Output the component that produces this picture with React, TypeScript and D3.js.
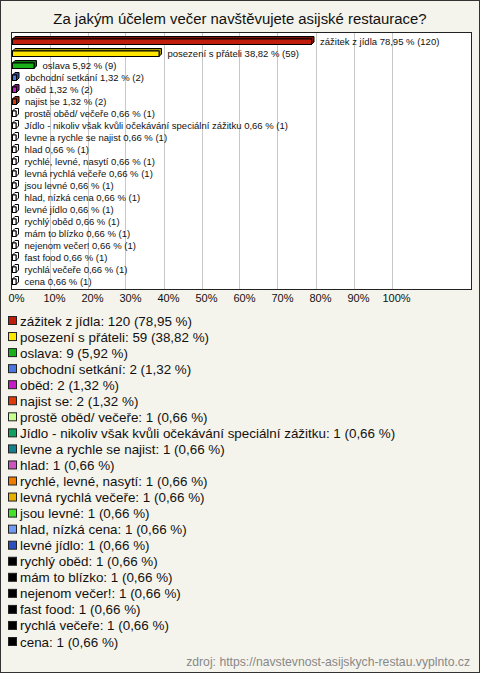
import React from "react";
import * as d3 from "d3";

const title = "Za jakým účelem večer navštěvujete asijské restaurace?";
const categories = [
  "zážitek z jídla",
  "posezení s přáteli",
  "oslava",
  "obchodní setkání",
  "oběd",
  "najist se",
  "prostě oběd/ večeře",
  "Jídlo - nikoliv však kvůli očekávání speciální zážitku",
  "levne a rychle se najist",
  "hlad",
  "rychlé, levné, nasytí",
  "levná rychlá večeře",
  "jsou levné",
  "hlad, nízká cena",
  "levné jídlo",
  "rychlý oběd",
  "mám to blízko",
  "nejenom večer!",
  "fast food",
  "rychlá večeře",
  "cena",
];
const counts = [120, 59, 9, 2, 2, 2, 1, 1, 1, 1, 1, 1, 1, 1, 1, 1, 1, 1, 1, 1, 1];
const percents = [78.95, 38.82, 5.92, 1.32, 1.32, 1.32, 0.66, 0.66, 0.66, 0.66, 0.66, 0.66, 0.66, 0.66, 0.66, 0.66, 0.66, 0.66, 0.66, 0.66, 0.66];
const colors = [
  "#c01d0c", "#ffe600", "#19b019", "#4a78e0", "#c81ac8", "#e03a0a",
  "#c4ff90", "#11a060", "#15808c", "#cc55c0", "#ef7c00", "#e6b000",
  "#44e02a", "#6f9cf0", "#2a4fc0", "#000000", "#000000", "#000000",
  "#000000", "#000000", "#000000",
];
const xTicks = [0, 10, 20, 30, 40, 50, 60, 70, 80, 90, 100];
const source = "zdroj: https://navstevnost-asijskych-restau.vyplnto.cz";

const W = 480;
const H = 673;
const FONT = "'Liberation Sans', Arial, sans-serif";
const fmt = (v: number) => v.toFixed(2).replace(".", ",");

export default function App() {
  const plot = { left: 11, right: 471, top: 32, bottom: 289 };
  const x = d3.scaleLinear().domain([0, 100]).range([11.5, 391.5]);
  const y = d3
    .scaleBand<number>()
    .domain(d3.range(categories.length))
    .range([plot.top + 3, plot.bottom - 2]);
  const ly = d3
    .scaleLinear()
    .domain([0, categories.length - 1])
    .range([321, 642]);
  const depth = 2.5;

  return (
    <svg
      width={W}
      height={H}
      style={{ position: "absolute", left: 0, top: 0, display: "block" }}
      fontFamily={FONT}
    >
      <rect x={0.5} y={0.5} width={W - 1} height={H - 1} fill="#f5f4ec" stroke="#333" />
      <text x={W / 2} y={24} textAnchor="middle" fontSize={14.9} fill="#111">
        {title}
      </text>
      <rect
        x={plot.left + 0.5}
        y={plot.top + 0.5}
        width={plot.right - plot.left}
        height={plot.bottom - plot.top}
        fill="#fff"
        stroke="#222"
      />
      {xTicks.slice(1).map((t) => (
        <line
          key={t}
          x1={Math.round(x(t)) + 0.5}
          x2={Math.round(x(t)) + 0.5}
          y1={plot.top + 1}
          y2={plot.bottom}
          stroke="#c8c8c8"
        />
      ))}
      {categories.map((c, i) => {
        const cy = (y(i) as number) + y.bandwidth() / 2;
        const x0 = x(0) + 1;
        const x1 = Math.max(x(percents[i]), x0 + 3.5);
        const top = cy - 2;
        const bot = cy + 3.5;
        const col = percents[i] < 1 ? "#ffffff" : colors[i];
        const dark = percents[i] < 1 ? "#ffffff" : d3.color(colors[i])!.darker(1.2).toString();
        return (
          <g key={c}>
            <polygon
              points={`${x0},${top} ${x0 + depth},${top - depth} ${x1 + depth},${top - depth} ${x1 + depth},${bot - depth} ${x1},${bot} ${x1},${top}`}
              fill={dark}
              stroke="#000"
              strokeWidth={1}
            />
            <rect x={x0} y={top} width={x1 - x0} height={bot - top} fill={col} stroke="#000" strokeWidth={1} />
            <text x={x1 + depth + 6} y={cy + 3.5} fontSize={9.5} fill="#111">
              {`${c} ${fmt(percents[i])} % (${counts[i]})`}
            </text>
          </g>
        );
      })}
      {xTicks.map((t) => (
        <text key={t} x={x(t) + 5} y={302} textAnchor="middle" fontSize={11} fill="#111">
          {`${t}%`}
        </text>
      ))}
      {categories.map((c, i) => (
        <g key={"l" + c}>
          <rect x={8.5} y={ly(i) - 4.5} width={8} height={8} fill={colors[i]} stroke="#222" />
          <text x={20} y={ly(i) + 4.5} fontSize={13.4} fill="#111">
            {`${c}: ${counts[i]} (${fmt(percents[i])} %)`}
          </text>
        </g>
      ))}
      <text x={470} y={666} textAnchor="end" fontSize={12.2} fill="#888">
        {source}
      </text>
    </svg>
  );
}
